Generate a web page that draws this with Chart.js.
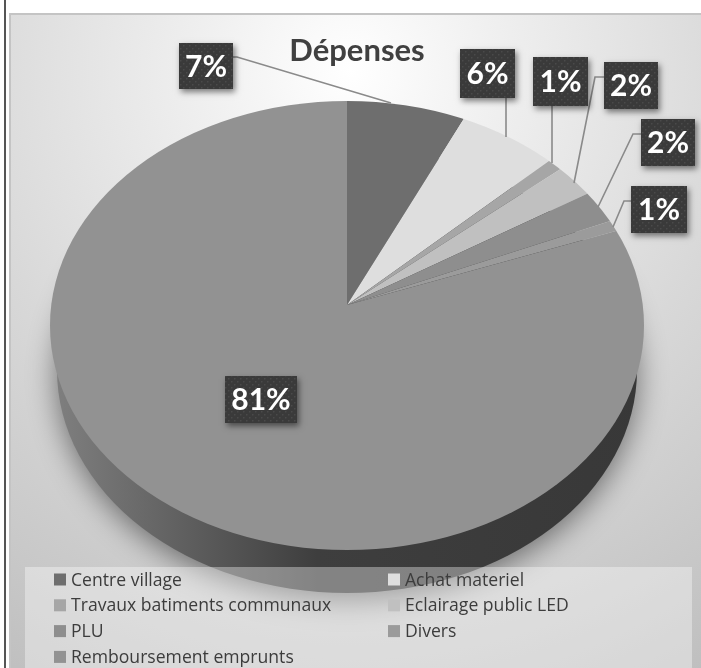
<!DOCTYPE html>
<html><head><meta charset="utf-8">
<style>html,body{margin:0;padding:0;background:#fff}canvas{display:block;filter:blur(.45px)}</style>
<script src="https://cdn.jsdelivr.net/npm/chart.js@4"></script>
</head><body><canvas id="c" width="701" height="668"></canvas>
<script>
const categories = ['Centre village','Achat materiel','Travaux batiments communaux','Eclairage public LED','PLU','Divers','Remboursement emprunts'];
const shares = [7.0, 5.9, 0.9, 2.4, 2.4, 0.8, 80.6];
const sliceColors = ['#6e6e6e','#dedede','#a6a6a6','#c0c0c0','#8e8e8e','#9b9b9b','#929292'];

// Presentation only: callout boxes and leader lines
const calloutBoxes = [[179,43,54,46],[460,49,55,49],[533,57,55,49],[604,62,54,47],[641,119,54,47],[631,186,56,47],[225,376,72,47]];
const leaderLines = [
  [[233,57],[237,57],[391,103]],
  [[506,98],[506,137]],
  [[552,106],[552,163]],
  [[604,77],[595,77],[574,183]],
  [[641,134],[633,134],[598,207]],
  [[631,201],[624,201],[613,227]],
  null
];
const face = {cx:347, cy:325.5, rx:297, ry:224.5, apexY:305, squash:0.75};
const base = {cx:347, cy:370, rx:290, ry:223};
const panel = {x:9, y:13};
const legendBox = {x:25, y:567, w:667, h:101};

const scenePlugin = {
  id:'scene',
  beforeDraw(chart){
    const {ctx,width,height} = chart;
    ctx.save();
    ctx.fillStyle='#fff'; ctx.fillRect(0,0,width,height);
    ctx.fillStyle='#555'; ctx.fillRect(4,0,2,height);
    ctx.fillStyle='#c4c4c4'; ctx.fillRect(panel.x,panel.y,width-panel.x,height-panel.y);
    const g = ctx.createRadialGradient(350,70,0,350,70,720);
    g.addColorStop(0,'#ffffff'); g.addColorStop(.2,'#f0f0f0'); g.addColorStop(.55,'#d8d8d8'); g.addColorStop(1,'#bdbdbd');
    ctx.fillStyle=g; ctx.fillRect(panel.x+2,panel.y+2,width-panel.x-2,height-panel.y-2);
    ctx.restore();
  },
  beforeDatasetsDraw(chart){
    const {ctx} = chart;
    const arc = chart.getDatasetMeta(0).data[0];
    // extruded side
    ctx.save();
    const sg = ctx.createLinearGradient(50,0,644,0);
    sg.addColorStop(0,'#808080'); sg.addColorStop(.2,'#636363'); sg.addColorStop(.45,'#3e3e3e'); sg.addColorStop(1,'#383838');
    ctx.fillStyle = sg;
    ctx.shadowColor='rgba(0,0,0,.5)'; ctx.shadowBlur=30; ctx.shadowOffsetY=6;
    ctx.beginPath(); ctx.ellipse(base.cx,base.cy,base.rx,base.ry,0,0,Math.PI*2); ctx.fill();
    ctx.restore();
    // perspective face
    ctx.save();
    ctx.beginPath(); ctx.ellipse(face.cx,face.cy,face.rx,face.ry,0,0,Math.PI*2); ctx.clip();
    const k = 345/arc.outerRadius;
    ctx.translate(face.cx, face.apexY);
    ctx.scale(k, k*face.squash);
    ctx.translate(-arc.x, -arc.y);
  },
  afterDatasetsDraw(chart){ chart.ctx.restore(); },
  afterDraw(chart){
    const {ctx} = chart;
    // legend panel
    ctx.save();
    ctx.fillStyle='rgba(255,255,255,.36)';
    ctx.fillRect(legendBox.x,legendBox.y,legendBox.w,legendBox.h);
    ctx.font='17.6px "Open Sans"'; ctx.textBaseline='middle'; ctx.textAlign='left';
    chart.data.labels.forEach((t,i)=>{
      const col=i%2, row=Math.floor(i/2);
      const x=col?388:54, y=579.5+row*25.8;
      ctx.fillStyle=sliceColors[i];
      ctx.fillRect(x,y-6,12,12);
      ctx.fillStyle='#3c3c3c';
      ctx.fillText(t,x+17,y+1);
    });
    ctx.restore();
    // leaders
    ctx.save();
    ctx.strokeStyle='#8a8a8a'; ctx.lineWidth=1.6;
    leaderLines.forEach(l=>{ if(!l) return; ctx.beginPath(); l.forEach((p,i)=>i?ctx.lineTo(p[0],p[1]):ctx.moveTo(p[0],p[1])); ctx.stroke(); });
    ctx.restore();
    // callouts
    const pc=document.createElement('canvas'); pc.width=pc.height=6;
    const px=pc.getContext('2d'); px.fillStyle='#3a3a3a'; px.fillRect(0,0,6,6);
    px.fillStyle='#4a4a4a'; px.fillRect(0,0,1.5,1.5); px.fillRect(3,3,1.5,1.5);
    const pat=ctx.createPattern(pc,'repeat');
    calloutBoxes.forEach((b,i)=>{
      ctx.save();
      ctx.shadowColor='rgba(0,0,0,.5)'; ctx.shadowBlur=6; ctx.shadowOffsetX=2; ctx.shadowOffsetY=3;
      ctx.fillStyle='#3a3a3a'; ctx.fillRect(b[0],b[1],b[2],b[3]);
      ctx.restore();
      ctx.fillStyle=pat; ctx.fillRect(b[0],b[1],b[2],b[3]);
      ctx.fillStyle='#fff'; ctx.font='bold 30px Lato'; ctx.textAlign='center'; ctx.textBaseline='middle';
      ctx.fillText(Math.round(shares[i])+'%', b[0]+b[2]/2, b[1]+b[3]/2+1);
    });
  }
};

new Chart(document.getElementById('c'),{
  type:'pie',
  data:{labels:categories,datasets:[{data:shares,backgroundColor:sliceColors,borderWidth:0}]},
  options:{
    responsive:false,animation:false,
    layout:{padding:{left:13}},
    plugins:{
      legend:{display:false},tooltip:{enabled:false},
      title:{display:true,text:'Dépenses',color:'#404040',font:{family:'Lato',size:31,weight:'bold'},padding:{top:32,bottom:0}}
    }
  },
  plugins:[scenePlugin]
});
</script></body></html>
